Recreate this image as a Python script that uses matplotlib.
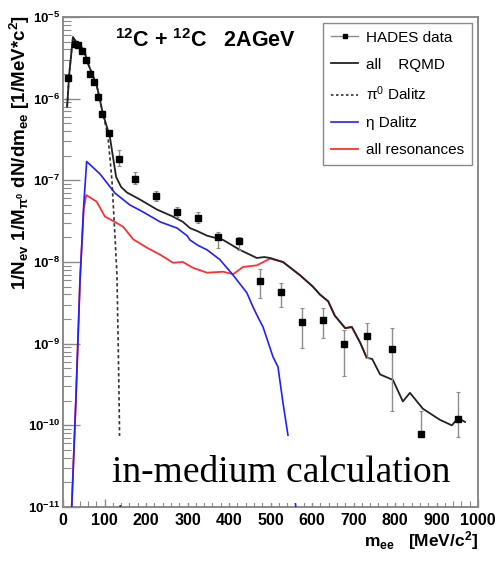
import numpy as np
import matplotlib
matplotlib.use("Agg")
import matplotlib.pyplot as plt
from matplotlib import font_manager
from matplotlib.patches import Rectangle
from matplotlib.ticker import FixedLocator, LogLocator, FuncFormatter, NullFormatter

# ---- data -------------------------------------------------------------
# HADES measurement
data_m = [12, 28, 36, 45, 56, 64, 74, 84, 95, 112, 136, 174, 224, 275, 325,
          374, 424, 475, 525, 576, 626, 676, 732, 792, 862, 951]
data_y = [1.8e-6, 4.7e-6, 4.6e-6, 3.8e-6, 3.0e-6, 2.0e-6, 1.6e-6, 1.05e-6,
          6.5e-7, 3.8e-7, 1.8e-7, 1.05e-7, 6.4e-8, 4.1e-8, 3.5e-8, 2.0e-8,
          1.8e-8, 5.9e-9, 4.3e-9, 1.85e-9, 1.95e-9, 1.0e-9, 1.25e-9, 8.7e-10,
          7.8e-11, 1.2e-10]
data_lo = [1.8e-6, 4.7e-6, 4.6e-6, 3.8e-6, 3.0e-6, 2.0e-6, 1.6e-6, 1.05e-6,
           6.5e-7, 3.8e-7, 1.5e-7, 9.0e-8, 5.6e-8, 3.6e-8, 3.0e-8, 1.5e-8,
           1.4e-8, 3.6e-9, 2.8e-9, 8.9e-10, 1.18e-9, 4.0e-10, 6.7e-10, 1.5e-10,
           7.8e-11, 7.2e-11]
data_hi = [1.8e-6, 4.7e-6, 4.6e-6, 3.8e-6, 3.0e-6, 2.0e-6, 1.6e-6, 1.05e-6,
           6.5e-7, 3.8e-7, 2.35e-7, 1.25e-7, 7.4e-8, 4.7e-8, 4.1e-8, 2.33e-8,
           2.0e-8, 8.2e-9, 5.5e-9, 2.74e-9, 2.74e-9, 1.48e-9, 1.8e-9, 1.56e-9,
           1.5e-10, 2.57e-10]

# RQMD total
all_m = [10, 15, 24, 31, 41, 53, 60, 69, 82, 96, 113, 120, 128, 140, 154,
         186, 226, 265, 289, 306, 323, 347, 386, 426, 467, 485, 499, 530,
         571, 602, 619, 639, 655, 680, 696, 716, 732, 745, 764, 795, 819,
         836, 867, 908, 937, 952, 969]
all_y = [8e-7, 2.0e-6, 5.7e-6, 5.0e-6, 4.6e-6, 3.6e-6, 2.7e-6, 2.1e-6,
         1.4e-6, 6.6e-7, 3.4e-7, 2.0e-7, 1.1e-7, 8.3e-8, 7.1e-8, 5.8e-8,
         4.4e-8, 3.6e-8, 3.1e-8, 2.6e-8, 2.4e-8, 2.1e-8, 1.86e-8, 1.41e-8,
         1.12e-8, 1.15e-8, 1.12e-8, 1.0e-8, 6.9e-9, 5.0e-9, 4.0e-9, 3.3e-9,
         2.2e-9, 1.55e-9, 1.6e-9, 1.03e-9, 6.7e-10, 6.5e-10, 4.2e-10, 3.6e-10,
         1.96e-10, 2.5e-10, 1.6e-10, 1.17e-10, 1.0e-10, 1.23e-10, 1.1e-10]

# pi0 Dalitz
pi0_m = [10, 15, 24, 31, 41, 53, 60, 69, 82, 96, 108, 118, 120, 125, 130,
         134, 136, 138]
pi0_y = [8e-7, 2.0e-6, 5.7e-6, 5.0e-6, 4.6e-6, 3.6e-6, 2.7e-6, 2.1e-6,
         1.4e-6, 6.6e-7, 3.6e-7, 1.0e-7, 6.3e-8, 2.2e-8, 7e-9, 5e-10,
         1e-10, 1e-11]

# eta Dalitz
eta_m = [21, 31, 41, 50, 57, 89, 125, 161, 193, 234, 275, 299, 306, 325,
         347, 378, 410, 443, 458, 470, 482, 506, 518, 530, 542, 552, 561]
eta_y = [1e-11, 2e-10, 6e-9, 5e-8, 1.7e-7, 1.2e-7, 7e-8, 5e-8, 4.1e-8,
         3.1e-8, 2.6e-8, 2.1e-8, 1.86e-8, 1.6e-8, 1.41e-8, 1.07e-8, 6.9e-9,
         4.2e-9, 2.8e-9, 2.1e-9, 1.6e-9, 6.9e-10, 5.2e-10, 1.9e-10, 7.6e-11,
         2.5e-11, 1e-11]

# all resonances
res_m = [21, 31, 41, 50, 56, 81, 101, 125, 145, 169, 202, 234, 265, 289,
         313, 347, 386, 410, 434, 467, 499, 530, 571, 602, 619, 639, 655,
         680, 696, 716, 732]
res_y = [1e-11, 2e-10, 6e-9, 4.5e-8, 6.6e-8, 5.5e-8, 3.6e-8, 3.1e-8, 2.7e-8,
         1.9e-8, 1.5e-8, 1.23e-8, 9.8e-9, 1.0e-8, 8.5e-9, 7.4e-9, 7.6e-9,
         7.1e-9, 8.7e-9, 9.1e-9, 1.1e-8, 1.0e-8, 6.9e-9, 5.0e-9, 4.0e-9,
         3.3e-9, 2.2e-9, 1.55e-9, 1.6e-9, 1.03e-9, 6.7e-10]

x_ticks = [0, 100, 200, 300, 400, 500, 600, 700, 800, 900, 1000]

# ---- fonts ------------------------------------------------------------
def have(name):
    try:
        font_manager.findfont(name, fallback_to_default=False)
        return True
    except Exception:
        return False

sans = "Liberation Sans" if have("Liberation Sans") else "DejaVu Sans"
serif = "Liberation Serif" if have("Liberation Serif") else "DejaVu Serif"

plt.rcParams["font.family"] = [sans, "DejaVu Sans"]
plt.rcParams["mathtext.fontset"] = "custom"
plt.rcParams["mathtext.rm"] = sans + ":bold"
plt.rcParams["mathtext.bf"] = sans + ":bold"
plt.rcParams["mathtext.it"] = sans + ":bold"

# ---- figure -----------------------------------------------------------
fig = plt.figure(figsize=(4.97, 5.69), dpi=100)
ax = fig.add_axes([63 / 497, 1 - 507 / 569, 415 / 497, 490 / 569])

frame_col = "#8a8a8a"
for s in ax.spines.values():
    s.set_color(frame_col)
    s.set_linewidth(1.4)

# model curves
ax.plot(res_m, res_y, color="#ff3030", lw=1.3, zorder=2)
ax.plot(eta_m, eta_y, color="#2020ff", lw=1.2, zorder=3)
ax.plot(pi0_m, pi0_y, color="#333333", lw=1.2, ls=(0, (2, 1.6)), zorder=3)
ax.plot(all_m, all_y, color="#222222", lw=1.3, zorder=4)

# data with error bars
dy = np.array(data_y)
yerr = [dy - np.array(data_lo), np.array(data_hi) - dy]
ax.errorbar(data_m, data_y, yerr=yerr, fmt="s", color="black", ms=4.8,
            ecolor="#8c8c8c", elinewidth=1.0, capsize=1.5, capthick=0.8,
            zorder=6)

ax.set_xlim(0, 1000)
ax.set_yscale("log")
ax.set_ylim(1e-11, 1e-5)

# ticks
ax.xaxis.set_major_locator(FixedLocator(x_ticks))
ax.xaxis.set_minor_locator(FixedLocator(np.arange(0, 1001, 20)))
ax.yaxis.set_major_locator(LogLocator(base=10, numticks=10))
ax.yaxis.set_minor_locator(LogLocator(base=10, subs=np.arange(2, 10), numticks=20))
ax.yaxis.set_minor_formatter(NullFormatter())
ax.xaxis.set_minor_formatter(NullFormatter())
ax.yaxis.set_major_formatter(FuncFormatter(
    lambda v, p: r"$\mathbf{10^{%d}}$" % int(round(np.log10(v)))))
ax.tick_params(axis="both", which="both", direction="in", colors=frame_col,
               top=False, right=False)
ax.tick_params(axis="x", which="major", length=6, width=1, pad=4)
ax.tick_params(axis="x", which="minor", length=4, width=0.8)
ax.tick_params(axis="y", which="major", length=12, width=1, pad=2)
ax.tick_params(axis="y", which="minor", length=6, width=0.8)
for lab in ax.get_xticklabels():
    lab.set_fontweight("bold")
    lab.set_fontsize(11.5)
    lab.set_color("black")
for lab in ax.get_yticklabels():
    lab.set_fontsize(9.5)
    lab.set_color("black")

# axis titles
ax.set_xlabel(r"m$_{\mathbf{ee}}$   [MeV/c$^{\mathbf{2}}$]", fontsize=12.5,
              fontweight="bold", loc="right")
ax.xaxis.set_label_coords(1.0, -0.045)
ax.set_ylabel(r"1/N$_{\mathbf{ev}}$ 1/M$_{\pi^{0}}$ dN/dm$_{\mathbf{ee}}$ [1/MeV*c$^{\mathbf{2}}$]",
              fontsize=13.5, fontweight="bold", loc="top")
ax.yaxis.set_label_coords(-0.075, 1.005)

# reaction label
ax.text(0.125, 0.939, r"$^{\mathbf{12}}$C + $^{\mathbf{12}}$C   2AGeV",
        transform=ax.transAxes, fontsize=15.5, fontweight="bold",
        ha="left", va="baseline")

# legend
handles = [
    plt.Line2D([], [], color="#8c8c8c", lw=1.0, marker="s", ms=3.5,
               mfc="black", mec="black"),
    plt.Line2D([], [], color="#222222", lw=1.3),
    plt.Line2D([], [], color="#333333", lw=1.2, ls=(0, (1.5, 1.5))),
    plt.Line2D([], [], color="#2020ff", lw=1.2),
    plt.Line2D([], [], color="#ff3030", lw=1.3),
]
labels = ["HADES data", "all    RQMD", "\u03c0$^{\\mathregular{0}}$ Dalitz",
          "\u03b7 Dalitz", "all resonances"]
leg = ax.legend(handles, labels, loc="upper left",
                bbox_to_anchor=(0.627, 0.988), fontsize=11, frameon=True,
                fancybox=False, edgecolor=frame_col, framealpha=1,
                handlelength=1.8, handletextpad=0.5, labelspacing=0.85,
                borderpad=0.5, borderaxespad=0.0)
leg.get_frame().set_linewidth(1.0)
leg.set_zorder(12)

# white panel carrying the calculation note (hides curves beneath it)
ax.add_patch(Rectangle((0.113, 0.008), 0.824, 0.137, transform=ax.transAxes,
                       facecolor="white", edgecolor="none", zorder=5))
ax.text(0.525, 0.05, "in-medium calculation", transform=ax.transAxes,
        fontsize=27, family=serif, ha="center", va="baseline", zorder=10)

fig.savefig("out.png", dpi=100, facecolor="white")
